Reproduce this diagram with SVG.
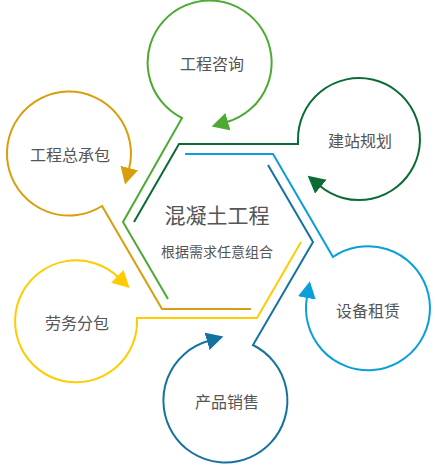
<svg xmlns="http://www.w3.org/2000/svg" width="435" height="467" viewBox="0 0 435 467">
<style>
.ln{fill:none;stroke-width:2;stroke-linejoin:miter}
.lbl{font-family:"Noto Sans CJK SC","Noto Sans",sans-serif;font-size:16px;fill:#555;text-anchor:middle}
.title{font-family:"Noto Sans CJK SC","Noto Sans",sans-serif;font-size:21px;fill:#555;text-anchor:middle}
.sub{font-family:"Noto Sans CJK SC","Noto Sans",sans-serif;font-size:14px;fill:#555;text-anchor:middle}
</style>
<defs>
<marker id="aGreen" markerUnits="userSpaceOnUse" markerWidth="20" markerHeight="20" refX="1" refY="9" orient="auto"><path d="M0,0 L17,9 L0,18 z" fill="#4DAA32"/></marker>
<marker id="aDark" markerUnits="userSpaceOnUse" markerWidth="20" markerHeight="20" refX="1" refY="9" orient="auto"><path d="M0,0 L17,9 L0,18 z" fill="#0B6B35"/></marker>
<marker id="aBlue" markerUnits="userSpaceOnUse" markerWidth="20" markerHeight="20" refX="1" refY="9" orient="auto"><path d="M0,0 L17,9 L0,18 z" fill="#0A9FDB"/></marker>
<marker id="aTeal" markerUnits="userSpaceOnUse" markerWidth="20" markerHeight="20" refX="1" refY="9" orient="auto"><path d="M0,0 L17,9 L0,18 z" fill="#13729F"/></marker>
<marker id="aYellow" markerUnits="userSpaceOnUse" markerWidth="20" markerHeight="20" refX="1" refY="9" orient="auto"><path d="M0,0 L17,9 L0,18 z" fill="#FFCC00"/></marker>
<marker id="aOrange" markerUnits="userSpaceOnUse" markerWidth="20" markerHeight="20" refX="1" refY="9" orient="auto"><path d="M0,0 L17,9 L0,18 z" fill="#D99E0B"/></marker>
</defs>
<rect width="435" height="467" fill="#fff"/>
<g id="connectors">
<path class="ln" stroke="#4DAA32" d="M168,299 L123,222 L182,118 A62,62 0 1 1 227,122" marker-end="url(#aGreen)"/>
<path class="ln" stroke="#0B6B35" d="M134,222 L179,144 L298,144 L298,140 A61,61 0 1 1 320,186" marker-end="url(#aDark)"/>
<path class="ln" stroke="#0A9FDB" d="M185,154 L273,154 L333,257 A62,62 0 1 1 307,297" marker-end="url(#aBlue)"/>
<path class="ln" stroke="#13729F" d="M268,165 L313,242 L253,345 A62,62 0 1 1 208,341" marker-end="url(#aTeal)"/>
<path class="ln" stroke="#FFCC00" d="M301,242 L257,318 L137,318 A61,61 0 1 1 118,277" marker-end="url(#aYellow)"/>
<path class="ln" stroke="#D99E0B" d="M251,309 L162,309 L102,206 A62,62 0 1 1 129,169" marker-end="url(#aOrange)"/>
</g>
<g id="center">
<text class="title" x="217" y="223">混凝土工程</text>
<text class="sub" x="217" y="257">根据需求任意组合</text>
</g>
<g id="node-consult"><text class="lbl" x="212" y="70">工程咨询</text></g>
<g id="node-plan"><text class="lbl" x="360" y="147">建站规划</text></g>
<g id="node-rent"><text class="lbl" x="368" y="317">设备租赁</text></g>
<g id="node-sales"><text class="lbl" x="227" y="408">产品销售</text></g>
<g id="node-labor"><text class="lbl" x="77" y="329">劳务分包</text></g>
<g id="node-epc"><text class="lbl" x="70" y="161">工程总承包</text></g>
</svg>
